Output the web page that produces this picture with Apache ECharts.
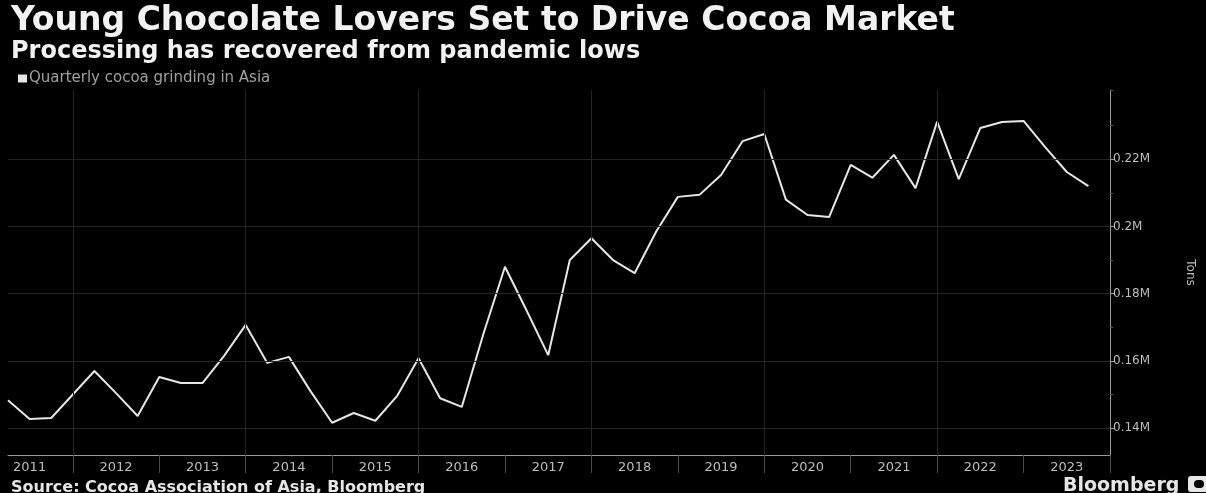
<!DOCTYPE html>
<html>
<head>
<meta charset="utf-8">
<title>Young Chocolate Lovers Set to Drive Cocoa Market</title>
<script src="https://cdn.jsdelivr.net/npm/echarts@6/dist/echarts.min.js"></script>
<style>
  html, body { margin: 0; padding: 0; background: #000; }
  #chart { width: 1206px; height: 493px; }
</style>
</head>
<body>
<div id="chart"></div>
<script>
// Quarterly cocoa grinding in Asia, tons, 2011 Q1 .. 2023 Q3
const firstYear = 2011;
const grindingTons = [
  148300, 142700, 143000, 150000, 157000, 150400, 143600, 155200,
  153400, 153400, 161500, 170700, 159400, 161200, 151000, 141600,
  144500, 142200, 149500, 160800, 148900, 146300, 168000, 188000,
  175000, 161700, 190000, 196500, 190000, 186100, 198500, 208800,
  209400, 215300, 225400, 227500, 208000, 203400, 202800, 218300,
  214500, 221300, 211400, 231200, 214100, 229300, 231100, 231400,
  223600, 216200, 212000
];

// Axis labels and reference lines
const yearLabels = [2011, 2012, 2013, 2014, 2015, 2016, 2017, 2018, 2019, 2020, 2021, 2022, 2023];
const yearBoundaries = [2012, 2013, 2014, 2015, 2016, 2017, 2018, 2019, 2020, 2021, 2022, 2023, 2024];
const gridYears = [2012, 2014, 2016, 2018, 2020, 2022];
const yTicks = [140000, 160000, 180000, 200000, 220000];
const yMinorTicks = [150000, 170000, 190000, 210000, 230000, 240600];

// Each quarter is plotted at the end of its quarter
const points = grindingTons.map((v, i) => [firstYear + (i + 1) / 4, v]);

const chart = echarts.init(document.getElementById('chart'), null, { renderer: 'canvas' });

const gridColor = '#242424';
const axisColor = '#9a9a9a';
const labelColor = '#bdbdbd';
const font = 'DejaVu Sans';

chart.setOption({
  backgroundColor: '#000',
  animation: false,
  textStyle: { fontFamily: font },
  title: [
    {
      text: 'Young Chocolate Lovers Set to Drive Cocoa Market',
      left: 6, top: 0,
      textStyle: { color: '#f2f2f2', fontSize: 33, fontWeight: 'bold', fontFamily: font }
    },
    {
      text: 'Processing has recovered from pandemic lows',
      left: 6, top: 35,
      textStyle: { color: '#f2f2f2', fontSize: 24, fontWeight: 'bold', fontFamily: font }
    },
    {
      text: 'Source: Cocoa Association of Asia, Bloomberg',
      left: 6, top: 475,
      textStyle: { color: '#e6e6e6', fontSize: 16, fontWeight: 'bold', fontFamily: font }
    },
    {
      text: 'Bloomberg',
      left: 1058, top: 472,
      textStyle: { color: '#e6e6e6', fontSize: 19, fontWeight: 'bold', fontFamily: font }
    }
  ],
  graphic: [
    {
      type: 'rect', left: 1188, top: 476,
      shape: { width: 26, height: 16, r: 3 },
      style: { fill: '#e6e6e6' }
    },
    {
      type: 'rect', left: 1194, top: 480,
      shape: { width: 10, height: 8, r: 4 },
      style: { fill: '#000' }
    }
  ],
  legend: {
    data: ['Quarterly cocoa grinding in Asia'],
    left: 13, top: 66,
    icon: 'rect',
    itemWidth: 9, itemHeight: 8,
    textStyle: { color: '#a0a0a0', fontSize: 15, fontFamily: font, padding: [0, 0, 0, -3] }
  },
  grid: { left: 8, right: 96, top: 90, bottom: 38 },
  xAxis: {
    type: 'value',
    min: 2011.25, max: 2024,
    axisLine: { show: true, lineStyle: { color: axisColor, width: 1 } },
    axisTick: {
      show: true, length: 18,
      customValues: yearBoundaries,
      lineStyle: { color: '#4a4a4a' }
    },
    axisLabel: {
      show: true,
      customValues: yearLabels.map(y => y + 0.5),
      formatter: v => String(Math.floor(v)),
      color: labelColor, fontSize: 13, fontFamily: font, margin: 6
    },
    splitLine: { show: false }
  },
  yAxis: [
    {
      type: 'value',
      position: 'right',
      min: 132000, max: 240600,
      name: 'Tons',
      nameLocation: 'middle',
      nameRotate: -90,
      nameGap: 74,
      nameTextStyle: { color: labelColor, fontSize: 12, fontFamily: font },
      axisLine: { show: true, lineStyle: { color: axisColor, width: 1 } },
      axisTick: { show: true, length: 5, customValues: yTicks, lineStyle: { color: axisColor } },
      axisLabel: {
        show: true,
        customValues: yTicks,
        formatter: v => (v / 1e6) + 'M',
        color: labelColor, fontSize: 12, fontFamily: font, margin: 3
      },
      splitLine: { show: false }
    },
    {
      type: 'value',
      position: 'right',
      min: 132000, max: 240600,
      axisLine: { show: false },
      axisTick: { show: true, length: 3, customValues: yMinorTicks, lineStyle: { color: '#5a5a5a' } },
      axisLabel: { show: false },
      splitLine: { show: false }
    }
  ],
  series: [
    {
      // gridlines, kept beneath the data line
      type: 'line',
      data: [],
      z: 1,
      silent: true,
      markLine: {
        silent: true,
        symbol: 'none',
        label: { show: false },
        lineStyle: { color: gridColor, width: 1, type: 'solid' },
        data: gridYears.map(y => ({ xAxis: y }))
          .concat(yTicks.map(t => ({ yAxis: t })))
      }
    },
    {
      name: 'Quarterly cocoa grinding in Asia',
      type: 'line',
      z: 3,
      data: points,
      showSymbol: false,
      symbol: 'none',
      color: '#e6e6e6',
      lineStyle: { color: '#e6e6e6', width: 2 }
    }
  ]
});
</script>
</body>
</html>
